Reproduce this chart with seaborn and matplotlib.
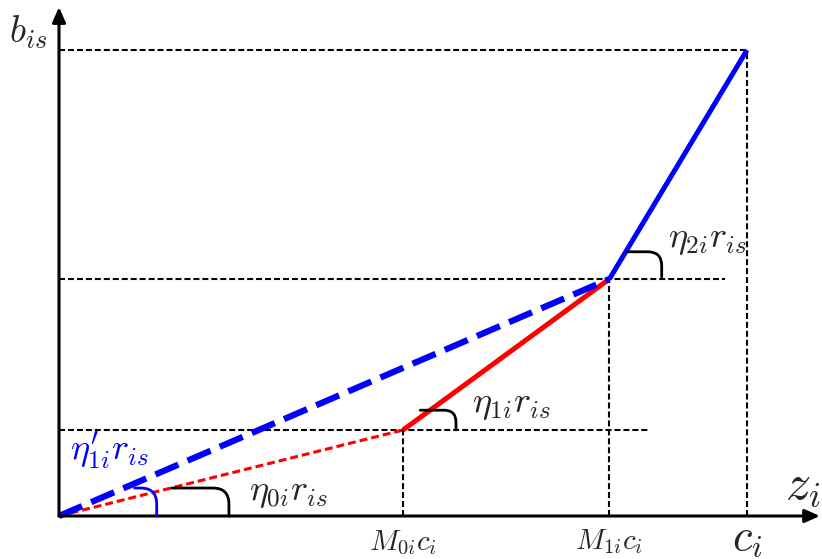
import numpy as np
import pandas as pd
import matplotlib
matplotlib.use("Agg")
import matplotlib.pyplot as plt
import seaborn as sns

sns.set_style("white")
plt.rcParams['mathtext.fontset'] = 'cm'
plt.rcParams['font.family'] = ['DejaVu Sans']

# Key points of the piecewise-linear curve (normalised units)
x_points = [0.0, 0.5, 0.8, 1.0]        # 0, M0i*ci, M1i*ci, ci
y_points = [0.0, 0.1845, 0.5086, 1.0]  # b_is levels
x_labels = [r'$M_{0i}c_i$', r'$M_{1i}c_i$', r'$c_i$']
slope_labels = [r'$\eta_{0i}r_{is}$', r'$\eta_{1i}r_{is}$', r'$\eta_{2i}r_{is}$']
chord_label = r"$\eta_{1i}^{\prime}r_{is}$"

fig = plt.figure(figsize=(8.22, 5.59), dpi=100)
ax = fig.add_axes([0, 0, 1, 1])
ax.set_xlim(-59 / 688, (822 - 59) / 688)
ax.set_ylim((516 - 559) / 466, 516 / 466)
ax.axis('off')

# guide lines
gkw = dict(color='black', lw=1.5, linestyle=(0, (2.9, 1.4)))
h_ext = [0.856, 0.968, 1.0]
for yv, xe in zip(y_points[1:], h_ext):
    ax.plot([0, xe], [yv, yv], **gkw)
for xv, yv in zip(x_points[1:], y_points[1:]):
    ax.plot([xv, xv], [0, yv], **gkw)

# segments
seg0 = pd.DataFrame({'x': x_points[0:2], 'y': y_points[0:2]})
seg1 = pd.DataFrame({'x': x_points[1:3], 'y': y_points[1:3]})
seg2 = pd.DataFrame({'x': x_points[2:4], 'y': y_points[2:4]})
chord = pd.DataFrame({'x': [x_points[0], x_points[2]], 'y': [y_points[0], y_points[2]]})

sns.lineplot(data=seg0, x='x', y='y', ax=ax, color='red', lw=2.2,
             linestyle=(0, (2.6, 1.3)), sort=False, estimator=None)
sns.lineplot(data=seg1, x='x', y='y', ax=ax, color='red', lw=3.6,
             sort=False, estimator=None, solid_capstyle='butt')
sns.lineplot(data=chord, x='x', y='y', ax=ax, color='blue', lw=4.5,
             linestyle=(0, (4.0, 1.6)), sort=False, estimator=None)
sns.lineplot(data=seg2, x='x', y='y', ax=ax, color='blue', lw=3.6,
             sort=False, estimator=None, solid_capstyle='butt')

# axes arrows
akw = dict(arrowstyle='-|>,head_length=0.9,head_width=0.4', lw=2.2,
           color='black', shrinkA=0, shrinkB=0)
ax.annotate('', xy=(1.106, 0), xytext=(0, 0), arrowprops=akw)
ax.annotate('', xy=(0, 1.092), xytext=(0, 0), arrowprops=akw)

# angle hooks
def hook(start, end, color='black', rad=16):
    ax.annotate('', xy=end, xytext=start,
                arrowprops=dict(arrowstyle='-', color=color, lw=2.0,
                                shrinkA=0, shrinkB=0,
                                connectionstyle=f'angle,angleA=0,angleB=90,rad={rad}'))

hook((0.164, 0.060), (0.247, 0.0))
hook((0.110, 0.060), (0.142, 0.0), color='blue', rad=16)
hook((0.525, 0.227), (0.577, 0.185), rad=12)
hook((0.826, 0.567), (0.876, 0.513), rad=14)

# labels
ax.text(-0.045, 1.039, r'$b_{is}$', fontsize=27, ha='center', va='center')
ax.text(1.081, 0.0665, r'$z_i$', fontsize=36, ha='center', va='center')
ax.text(x_points[1], -0.057, x_labels[0], fontsize=21, ha='center', va='center')
ax.text(x_points[2], -0.055, x_labels[1], fontsize=21, ha='center', va='center')
ax.text(x_points[3], -0.046, x_labels[2], fontsize=32, ha='center', va='center')
ax.text(0.074, 0.142, chord_label, fontsize=26, ha='center', va='center', color='blue')
ax.text(0.333, 0.049, slope_labels[0], fontsize=26, ha='center', va='center')
ax.text(0.658, 0.238, slope_labels[1], fontsize=26, ha='center', va='center')
ax.text(0.943, 0.592, slope_labels[2], fontsize=26, ha='center', va='center')

fig.savefig('out.png', dpi=100)
